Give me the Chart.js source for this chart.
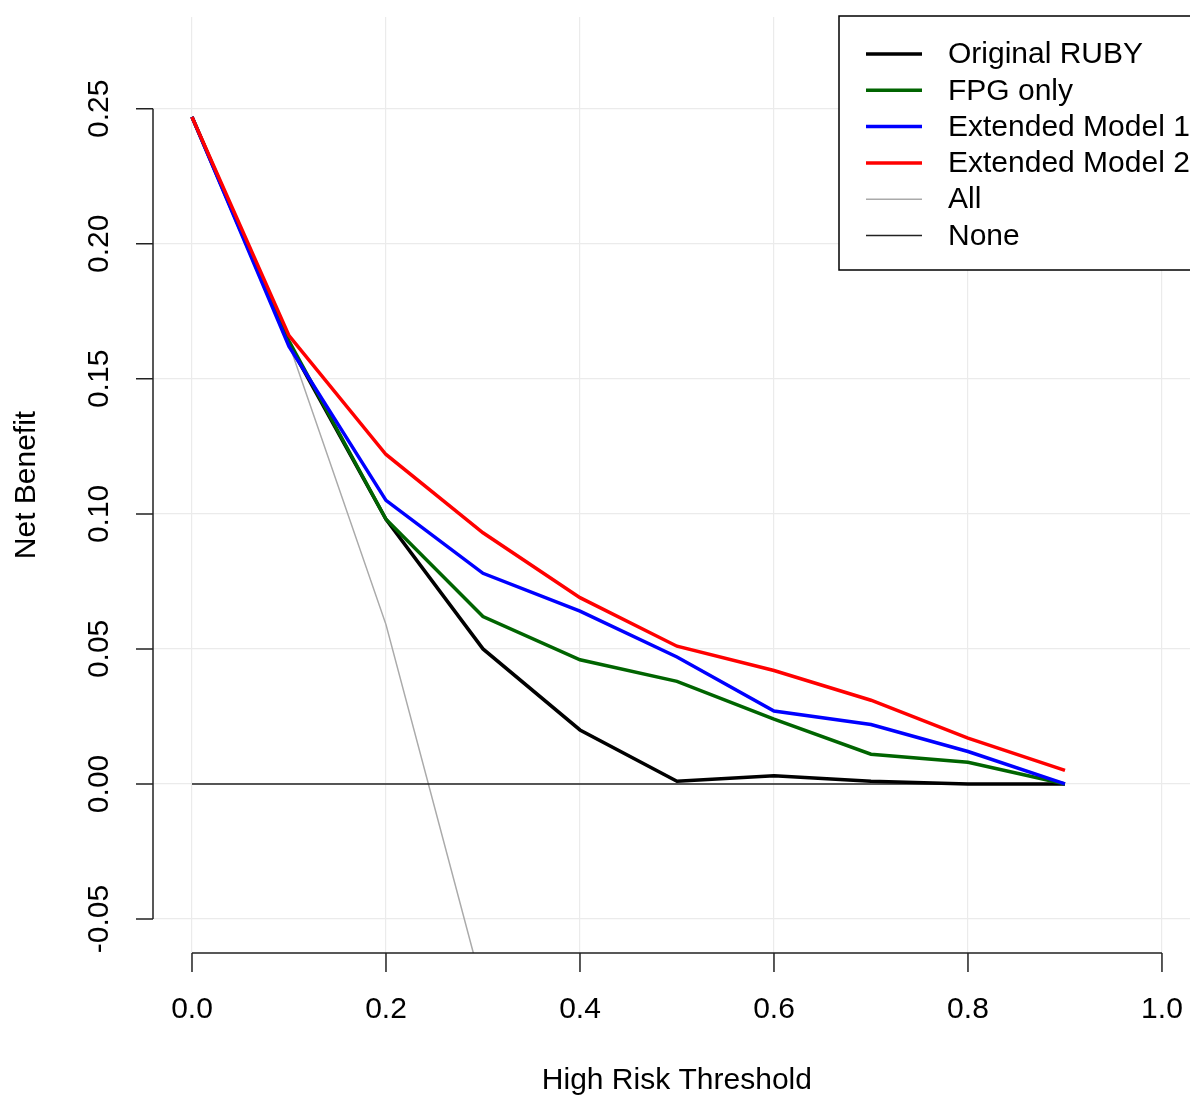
<!DOCTYPE html>
<html>
<head>
<meta charset="utf-8">
<script src="https://cdn.jsdelivr.net/npm/chart.js@4/dist/chart.umd.min.js"></script>
<style>
  body { margin: 0; background: #fff; }
  canvas { display: block; }
</style>
</head>
<body>
<canvas id="dca" width="1190" height="1097"></canvas>
<script>
// thresholds on the x axis
const thresholds = [0, 0.1, 0.2, 0.3, 0.4, 0.5, 0.6, 0.7, 0.8, 0.9];

// net benefit
const originalRuby = [0.247, 0.163, 0.098, 0.050, 0.020, 0.001, 0.003, 0.001, 0.000, 0.000];
const fpgOnly      = [0.247, 0.164, 0.098, 0.062, 0.046, 0.038, 0.024, 0.011, 0.008, 0.000];
const extended1    = [0.247, 0.162, 0.105, 0.078, 0.064, 0.047, 0.027, 0.022, 0.012, 0.000];
const extended2    = [0.247, 0.166, 0.122, 0.093, 0.069, 0.051, 0.042, 0.031, 0.017, 0.005];
const treatAll     = [0.247, 0.163, 0.059, -0.076]; // runs off the bottom after 0.3
const treatNone    = [0, 0, 0, 0, 0, 0, 0, 0, 0, 0];

const xTicks = [0, 0.2, 0.4, 0.6, 0.8, 1.0];
const yTicks = [-0.05, 0, 0.05, 0.10, 0.15, 0.20, 0.25];
const xTickLabels = ["0.0", "0.2", "0.4", "0.6", "0.8", "1.0"];
const yTickLabels = ["-0.05", "0.00", "0.05", "0.10", "0.15", "0.20", "0.25"];

const legendNames = ["Original RUBY", "FPG only", "Extended Model 1", "Extended Model 2", "All", "None"];

const FONT = '30px "Liberation Sans", Arial, sans-serif';

function pts(vals) {
  return vals.map((v, i) => ({ x: thresholds[i], y: v }));
}

function series(label, vals, color, width, order) {
  return {
    label: label,
    data: pts(vals),
    borderColor: color,
    backgroundColor: color,
    borderWidth: width,
    pointRadius: 0,
    tension: 0,
    fill: false,
    order: order,
  };
}

// R style axes, labels and legend box
const rAxes = {
  id: "rAxes",
  afterDraw(chart) {
    const ctx = chart.ctx;
    const xs = chart.scales.x;
    const ys = chart.scales.y;
    const bottom = chart.chartArea.bottom;
    const left = chart.chartArea.left;
    ctx.save();
    ctx.strokeStyle = "#222";
    ctx.lineWidth = 1.5;
    ctx.fillStyle = "#000";
    ctx.font = FONT;

    // x axis
    ctx.beginPath();
    ctx.moveTo(xs.getPixelForValue(0), bottom);
    ctx.lineTo(xs.getPixelForValue(1), bottom);
    xTicks.forEach((t) => {
      const px = xs.getPixelForValue(t);
      ctx.moveTo(px, bottom);
      ctx.lineTo(px, bottom + 19);
    });
    ctx.stroke();
    ctx.textAlign = "center";
    ctx.textBaseline = "middle";
    xTicks.forEach((t, i) => {
      ctx.fillText(xTickLabels[i], xs.getPixelForValue(t), 1010);
    });
    ctx.fillText("High Risk Threshold", (left + xs.getPixelForValue(1.04)) / 2, 1081);

    // y axis
    ctx.beginPath();
    ctx.moveTo(left, ys.getPixelForValue(0.25));
    ctx.lineTo(left, ys.getPixelForValue(-0.05));
    yTicks.forEach((t) => {
      const py = ys.getPixelForValue(t);
      ctx.moveTo(left, py);
      ctx.lineTo(left - 17, py);
    });
    ctx.stroke();
    yTicks.forEach((t, i) => {
      ctx.save();
      ctx.translate(100, ys.getPixelForValue(t));
      ctx.rotate(-Math.PI / 2);
      ctx.fillText(yTickLabels[i], 0, 0);
      ctx.restore();
    });
    ctx.save();
    ctx.translate(27, (chart.chartArea.top + bottom) / 2);
    ctx.rotate(-Math.PI / 2);
    ctx.fillText("Net Benefit", 0, 0);
    ctx.restore();

    // legend
    ctx.fillStyle = "#fff";
    ctx.fillRect(839, 16, 400, 254);
    ctx.strokeStyle = "#000";
    ctx.lineWidth = 1.5;
    ctx.strokeRect(839, 16, 400, 254);
    const ds = chart.data.datasets;
    ctx.textAlign = "left";
    ctx.fillStyle = "#000";
    legendNames.forEach((name, i) => {
      const y = 54 + i * 36.3;
      const d = ds.find((s) => s.label === name);
      ctx.beginPath();
      ctx.strokeStyle = d.borderColor;
      ctx.lineWidth = d.borderWidth;
      ctx.moveTo(866, y);
      ctx.lineTo(922, y);
      ctx.stroke();
      ctx.fillText(name, 948, y + 1);
    });
    ctx.restore();
  },
};

new Chart(document.getElementById("dca").getContext("2d"), {
  type: "line",
  data: {
    datasets: [
      series("Extended Model 2", extended2, "#ff0000", 3.5, 0),
      series("Extended Model 1", extended1, "#0000ff", 3.5, 1),
      series("FPG only", fpgOnly, "#006400", 3.5, 2),
      series("Original RUBY", originalRuby, "#000000", 3.5, 3),
      series("None", treatNone, "#222222", 1.5, 4),
      series("All", treatAll, "#aaaaaa", 1.5, 5),
    ],
  },
  options: {
    responsive: false,
    animation: false,
    layout: { padding: { left: 153, top: 17, right: 0, bottom: 144 } },
    scales: {
      x: {
        type: "linear",
        min: -0.0402,
        max: 1.0289,
        afterBuildTicks: (s) => { s.ticks = xTicks.map((v) => ({ value: v })); },
        ticks: { display: false },
        border: { display: false },
        grid: { color: "#ebebeb", lineWidth: 1.2, drawTicks: false },
      },
      y: {
        type: "linear",
        min: -0.0626,
        max: 0.284,
        afterBuildTicks: (s) => { s.ticks = yTicks.map((v) => ({ value: v })); },
        ticks: { display: false },
        border: { display: false },
        grid: { color: "#ebebeb", lineWidth: 1.2, drawTicks: false },
      },
    },
    plugins: {
      legend: { display: false },
      tooltip: { enabled: false },
    },
  },
  plugins: [rAxes],
});
</script>
</body>
</html>
